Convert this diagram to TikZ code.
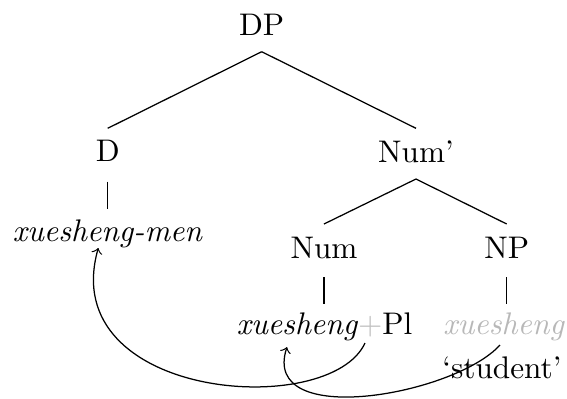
\documentclass[tikz,border=0pt]{standalone}
\usetikzlibrary{calc}
\begin{document}
\begin{tikzpicture}[x=0.32pt,y=-0.32pt,
  lbl/.style={anchor=base,inner sep=0pt,outer sep=0pt},
  branch/.style={line width=0.4pt},
  mv/.style={->,line width=0.4pt}]
\useasboundingbox (0,0) rectangle (567,398);
% labels
\node[lbl] (dp) at (261.7,35.7) {DP};
\node[lbl] (d) at (107.7,161.7) {D};
\node[lbl] (numbar) at (416,162.3) {Num'};
\node[lbl] (xm) at (107.7,241) {\textit{xuesheng-men}};
\node[lbl] (num) at (324,258) {Num};
\node[lbl] (np) at (506.7,258) {NP};
\node[lbl] (leaf) at (324.5,334.5) {\textit{xuesheng}\textcolor{black!25}{+}Pl};
\node[lbl,text=black!28] (gx) at (504,334) {\textit{xuesheng}};
\node[lbl] (st) at (502,378) {`student'};
% branches
\draw[branch] ($(dp.base)+(0,16)$) -- ($(d.base)+(0,-33.4)$);
\draw[branch] ($(dp.base)+(0,16)$) -- ($(numbar.base)+(0,-34)$);
\draw[branch] ($(d.base)+(0,20)$) -- ($(xm.base)+(0,-32)$);
\draw[branch] ($(numbar.base)+(0,16.7)$) -- ($(num.base)+(0,-34)$);
\draw[branch] ($(numbar.base)+(0,16.7)$) -- ($(np.base)+(0,-34)$);
\draw[branch] ($(num.base)+(0,19)$) -- ($(num.base |- leaf.base)+(0,-30.5)$);
\draw[branch] ($(np.base)+(0,19)$) -- ($(np.base |- gx.base)+(0,-30)$);
% movement arrows
\draw[mv] ($(leaf.base)+(40.5,8.5)$) .. controls +(-35,77) and +(-43,152) .. ($(xm.base)+(-9.4,7)$);
\draw[mv] ($(gx.base)+(-4,11)$) .. controls +(-45,50) and +(-27,83) .. ($(leaf.base)+(-37.5,12.5)$);
\end{tikzpicture}
\end{document}
